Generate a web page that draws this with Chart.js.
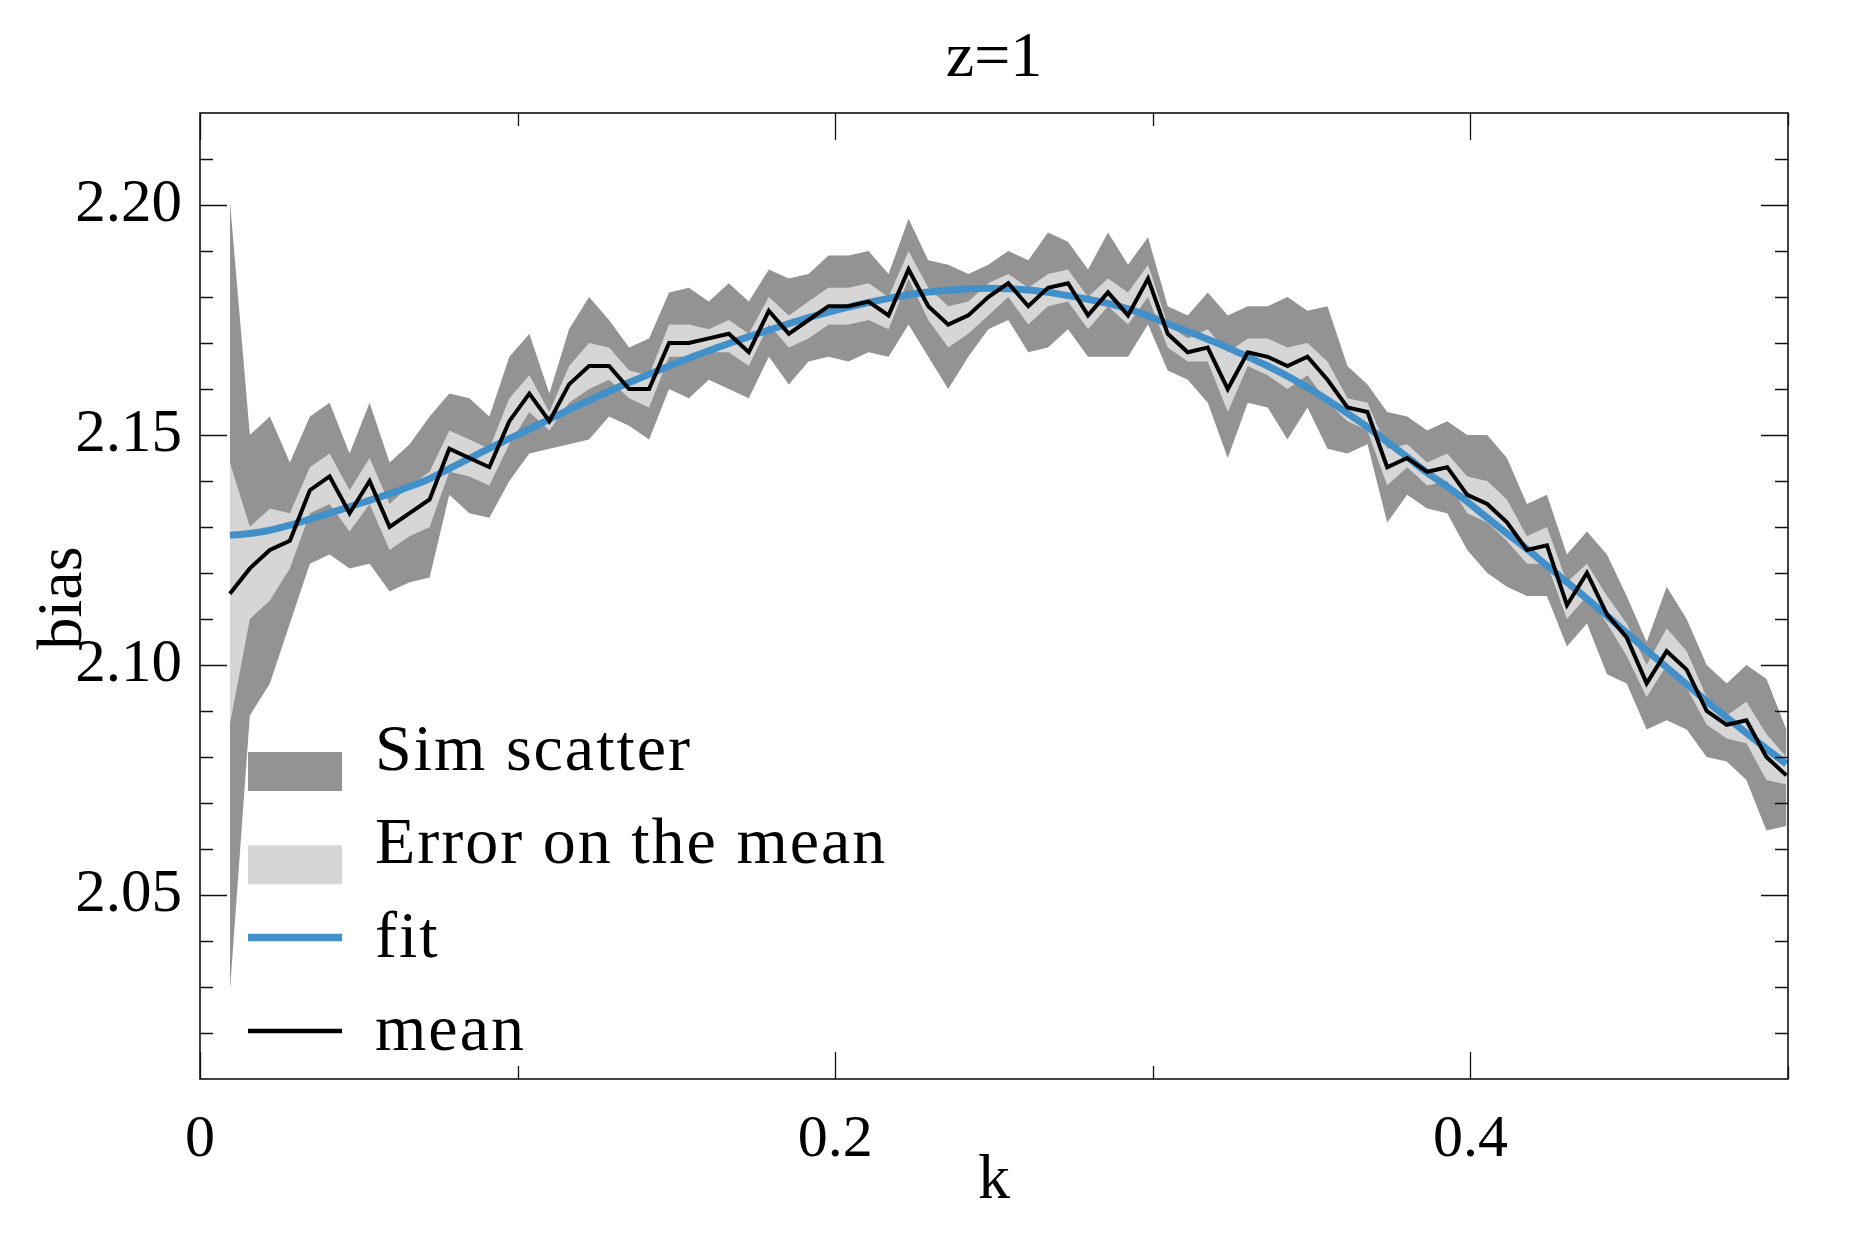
<!DOCTYPE html>
<html>
<head>
<meta charset="utf-8">
<title>bias vs k, z=1</title>
<script src="https://cdn.jsdelivr.net/npm/chart.js@4.4.1/dist/chart.umd.min.js"></script>
<style>
  html, body { margin: 0; padding: 0; background: #fff; }
  #wrap { width: 1875px; height: 1250px; }
</style>
</head>
<body>
<div id="wrap"><canvas id="grafica" width="1875" height="1250"></canvas></div>
<script>
/* =============================================================================
 * bias(k) at z=1: sim scatter band, error-on-the-mean band, mean and fit.
 * ========================================================================== */

const kVals = [
  0.0094, 0.0157, 0.0220, 0.0283, 0.0346, 0.0408, 0.0471, 0.0534, 0.0597, 0.0660,
  0.0723, 0.0785, 0.0848, 0.0911, 0.0974, 0.1037, 0.1100, 0.1162, 0.1225, 0.1288,
  0.1351, 0.1414, 0.1477, 0.1539, 0.1602, 0.1665, 0.1728, 0.1791, 0.1854, 0.1916,
  0.1979, 0.2042, 0.2105, 0.2168, 0.2231, 0.2293, 0.2356, 0.2419, 0.2482, 0.2545,
  0.2608, 0.2670, 0.2733, 0.2796, 0.2859, 0.2922, 0.2985, 0.3047, 0.3110, 0.3173,
  0.3236, 0.3299, 0.3362, 0.3424, 0.3487, 0.3550, 0.3613, 0.3676, 0.3738, 0.3801,
  0.3864, 0.3927, 0.3990, 0.4053, 0.4115, 0.4178, 0.4241, 0.4304, 0.4367, 0.4430,
  0.4492, 0.4555, 0.4618, 0.4681, 0.4744, 0.4807, 0.4869, 0.4932, 0.4995
];

const meanVals = [
  2.1155, 2.121, 2.125, 2.127, 2.138, 2.141, 2.133, 2.140, 2.130, 2.133,
  2.136, 2.147, 2.145, 2.143, 2.153, 2.159, 2.153, 2.161, 2.165, 2.165,
  2.160, 2.160, 2.170, 2.170, 2.171, 2.172, 2.168, 2.177, 2.172, 2.175,
  2.178, 2.178, 2.179, 2.176, 2.186, 2.178, 2.174, 2.176, 2.180, 2.183,
  2.178, 2.182, 2.183, 2.176, 2.181, 2.176, 2.184, 2.172, 2.168, 2.169,
  2.160, 2.168, 2.167, 2.165, 2.167, 2.162, 2.156, 2.155, 2.143, 2.145,
  2.142, 2.143, 2.137, 2.135, 2.131, 2.125, 2.126, 2.113, 2.120, 2.111,
  2.106, 2.096, 2.103, 2.099, 2.090, 2.087, 2.088, 2.080, 2.076
];

const errHi = [
  2.144, 2.130, 2.134, 2.133, 2.143, 2.146, 2.138, 2.145, 2.135, 2.139,
  2.142, 2.151, 2.149, 2.147, 2.158, 2.163, 2.155, 2.165, 2.170, 2.169,
  2.164, 2.163, 2.174, 2.174, 2.173, 2.175, 2.172, 2.180, 2.176, 2.179,
  2.182, 2.182, 2.183, 2.180, 2.190, 2.182, 2.178, 2.179, 2.183, 2.185,
  2.182, 2.185, 2.186, 2.180, 2.184, 2.181, 2.187, 2.174, 2.171, 2.173,
  2.168, 2.171, 2.171, 2.169, 2.170, 2.166, 2.158, 2.157, 2.147, 2.148,
  2.144, 2.146, 2.141, 2.140, 2.136, 2.128, 2.130, 2.118, 2.122, 2.115,
  2.109, 2.100, 2.108, 2.103, 2.093, 2.089, 2.092, 2.085, 2.080
];

const errLo = [
  2.087, 2.110, 2.114, 2.121, 2.133, 2.135, 2.129, 2.135, 2.125, 2.128,
  2.130, 2.142, 2.141, 2.139, 2.148, 2.155, 2.151, 2.157, 2.160, 2.162,
  2.158, 2.156, 2.167, 2.167, 2.168, 2.168, 2.165, 2.174, 2.169, 2.171,
  2.174, 2.174, 2.175, 2.173, 2.184, 2.175, 2.169, 2.172, 2.176, 2.180,
  2.174, 2.178, 2.179, 2.173, 2.178, 2.174, 2.180, 2.169, 2.166, 2.166,
  2.155, 2.165, 2.163, 2.160, 2.163, 2.157, 2.153, 2.151, 2.139, 2.143,
  2.139, 2.140, 2.133, 2.131, 2.127, 2.122, 2.122, 2.110, 2.115, 2.109,
  2.102, 2.093, 2.100, 2.095, 2.087, 2.084, 2.083, 2.075, 2.074
];

const scatHi = [
  2.201, 2.150, 2.154, 2.144, 2.154, 2.157, 2.146, 2.157, 2.144, 2.148,
  2.154, 2.159, 2.158, 2.154, 2.167, 2.172, 2.159, 2.173, 2.180, 2.175,
  2.169, 2.171, 2.181, 2.182, 2.179, 2.183, 2.179, 2.186, 2.184, 2.185,
  2.189, 2.189, 2.190, 2.185, 2.197, 2.188, 2.187, 2.185, 2.187, 2.190,
  2.188, 2.194, 2.192, 2.186, 2.194, 2.187, 2.193, 2.178, 2.176, 2.181,
  2.176, 2.178, 2.178, 2.180, 2.177, 2.178, 2.165, 2.161, 2.155, 2.154,
  2.151, 2.153, 2.150, 2.150, 2.145, 2.135, 2.137, 2.124, 2.129, 2.124,
  2.115, 2.105, 2.117, 2.110, 2.100, 2.096, 2.100, 2.097, 2.086
];

const scatLo = [
  2.029, 2.089, 2.096, 2.109, 2.122, 2.124, 2.121, 2.122, 2.116, 2.118,
  2.119, 2.137, 2.133, 2.132, 2.140, 2.146, 2.147, 2.148, 2.149, 2.154,
  2.152, 2.149, 2.160, 2.158, 2.162, 2.160, 2.158, 2.167, 2.161, 2.166,
  2.167, 2.166, 2.168, 2.167, 2.174, 2.167, 2.160, 2.167, 2.173, 2.175,
  2.168, 2.169, 2.173, 2.167, 2.167, 2.167, 2.174, 2.164, 2.162, 2.157,
  2.145, 2.157, 2.156, 2.149, 2.156, 2.147, 2.146, 2.148, 2.131, 2.137,
  2.134, 2.133, 2.125, 2.120, 2.117, 2.115, 2.115, 2.104, 2.109, 2.098,
  2.096, 2.086, 2.088, 2.086, 2.080, 2.079, 2.075, 2.064, 2.065
];

const fitVals = [
  2.1282, 2.1286, 2.1293, 2.1304, 2.1317, 2.1330, 2.1344, 2.1358, 2.1372, 2.1388,
  2.1405, 2.1427, 2.1449, 2.1471, 2.1492, 2.1513, 2.1534, 2.1555, 2.1575, 2.1595,
  2.1614, 2.1632, 2.1650, 2.1667, 2.1683, 2.1699, 2.1714, 2.1728, 2.1742, 2.1755,
  2.1767, 2.1778, 2.1788, 2.1797, 2.1805, 2.1811, 2.1815, 2.1818, 2.1819, 2.1818,
  2.1815, 2.1810, 2.1803, 2.1795, 2.1786, 2.1774, 2.1759, 2.1742, 2.1725, 2.1708,
  2.1690, 2.1670, 2.1650, 2.1628, 2.1603, 2.1576, 2.1547, 2.1517, 2.1485, 2.1452,
  2.1418, 2.1388, 2.1355, 2.1320, 2.1286, 2.1252, 2.1216, 2.1180, 2.1144, 2.1107,
  2.1070, 2.1032, 2.0995, 2.0958, 2.0921, 2.0886, 2.0852, 2.0818, 2.0785
];

const xTicks = [0, 0.2, 0.4];
const xMinor = [0.1, 0.3, 0.5];
const yTicks = [2.05, 2.10, 2.15, 2.20];
const yMinor = [2.02, 2.03, 2.04, 2.06, 2.07, 2.08, 2.09, 2.11, 2.12, 2.13,
                2.14, 2.16, 2.17, 2.18, 2.19, 2.21];

const TITLE = 'z=1';
const X_LABEL = 'k';
const Y_LABEL = 'bias';

const FONT = "'Liberation Serif', 'Times New Roman', serif";
const C_SCATTER = '#939393';
const C_ERROR = '#d6d6d6';
const C_FIT = '#4290c9';
const C_MEAN = '#000000';

const puntos = (vals) => kVals.map((k, i) => ({ x: k, y: vals[i] }));

/* --- Frame with inward ticks on all four sides --------------------------- */
const marco = {
  id: 'marco',
  afterDatasetsDraw(chart) {
    const { ctx, chartArea: a, scales: { x, y } } = chart;
    ctx.save();
    ctx.strokeStyle = '#111';
    ctx.lineWidth = 1.3;
    ctx.beginPath();
    const xt = (vals, len) => vals.forEach(v => {
      const px = Math.round(x.getPixelForValue(v)) + 0.5;
      ctx.moveTo(px, a.bottom); ctx.lineTo(px, a.bottom - len);
      ctx.moveTo(px, a.top); ctx.lineTo(px, a.top + len);
    });
    const yt = (vals, len) => vals.forEach(v => {
      const py = Math.round(y.getPixelForValue(v)) + 0.5;
      ctx.moveTo(a.left, py); ctx.lineTo(a.left + len, py);
      ctx.moveTo(a.right, py); ctx.lineTo(a.right - len, py);
    });
    xt(xTicks, 27); xt(xMinor, 13);
    yt(yTicks, 27); yt(yMinor, 13);
    ctx.stroke();
    ctx.lineWidth = 1.6;
    ctx.strokeRect(a.left, a.top, a.right - a.left, a.bottom - a.top);
    ctx.restore();
  }
};

/* --- Legend inside the plot, lower left ---------------------------------- */
const leyenda = {
  id: 'leyenda',
  afterDatasetsDraw(chart) {
    const { ctx } = chart;
    const ds = chart.data.datasets;
    const filas = [ds[4], ds[2], ds[1], ds[0]];
    const x0 = 248, x1 = 342, base = 770, paso = 93.3;
    ctx.save();
    ctx.font = `66px ${FONT}`;
    ctx.letterSpacing = '2px';
    ctx.textBaseline = 'alphabetic';
    filas.forEach((d, i) => {
      const yb = base + i * paso;
      if (d.fill) {
        ctx.fillStyle = d.backgroundColor;
        ctx.fillRect(x0, yb - 18, x1 - x0, 39);
      } else {
        ctx.strokeStyle = d.borderColor;
        ctx.lineWidth = d.borderWidth + 0.5;
        ctx.beginPath();
        ctx.moveTo(x0, yb - 19); ctx.lineTo(x1, yb - 19);
        ctx.stroke();
      }
      ctx.fillStyle = '#000';
      ctx.fillText(d.label, 375, yb);
    });
    ctx.restore();
  }
};

/* --- Title and axis labels ----------------------------------------------- */
const rotulos = {
  id: 'rotulos',
  afterDraw(chart) {
    const { ctx, chartArea: a } = chart;
    const cx = (a.left + a.right) / 2;
    ctx.save();
    ctx.fillStyle = '#000';
    ctx.textAlign = 'center';
    ctx.textBaseline = 'alphabetic';
    ctx.font = `64px ${FONT}`;
    ctx.fillText(TITLE, cx, 76);
    ctx.fillText(X_LABEL, cx, 1198);
    ctx.translate(81, 598);
    ctx.rotate(-Math.PI / 2);
    ctx.font = `64px ${FONT}`;
    ctx.fillText(Y_LABEL, 0, 0);
    ctx.restore();
  }
};

const sinPuntos = { pointRadius: 0, pointHoverRadius: 0 };

new Chart(document.getElementById('grafica'), {
  type: 'line',
  data: {
    datasets: [
      { label: 'mean', data: puntos(meanVals), borderColor: C_MEAN, borderWidth: 4, fill: false, ...sinPuntos },
      { label: 'fit', data: puntos(fitVals), borderColor: C_FIT, borderWidth: 7, fill: false,
        cubicInterpolationMode: 'monotone', ...sinPuntos },
      { label: 'Error on the mean', data: puntos(errHi), borderWidth: 0, borderColor: 'rgba(0,0,0,0)',
        backgroundColor: C_ERROR, fill: '+1', ...sinPuntos },
      { label: 'err-lo', data: puntos(errLo), borderWidth: 0, borderColor: 'rgba(0,0,0,0)', fill: false, ...sinPuntos },
      { label: 'Sim scatter', data: puntos(scatHi), borderWidth: 0, borderColor: 'rgba(0,0,0,0)',
        backgroundColor: C_SCATTER, fill: '+1', ...sinPuntos },
      { label: 'scat-lo', data: puntos(scatLo), borderWidth: 0, borderColor: 'rgba(0,0,0,0)', fill: false, ...sinPuntos },
    ],
  },
  options: {
    responsive: false,
    devicePixelRatio: 1,
    animation: false,
    layout: { padding: { top: 113, right: 87, bottom: 0, left: 0 } },
    plugins: { legend: { display: false }, tooltip: { enabled: false }, title: { display: false } },
    scales: {
      x: {
        type: 'linear', min: 0, max: 0.5,
        afterBuildTicks: (s) => { s.ticks = xTicks.map(v => ({ value: v })); },
        afterFit: (s) => { s.height = 171; },
        grid: { display: false, drawTicks: false },
        border: { display: false },
        ticks: {
          color: '#000', padding: 25, maxRotation: 0, autoSkip: false,
          font: { family: FONT, size: 60 },
          callback: (v) => (v === 0 ? '0' : String(+v.toFixed(1))),
        },
      },
      y: {
        type: 'linear', min: 2.01, max: 2.22,
        afterBuildTicks: (s) => { s.ticks = yTicks.map(v => ({ value: v })); },
        afterFit: (s) => { s.width = 200; },
        grid: { display: false, drawTicks: false },
        border: { display: false },
        ticks: {
          color: '#000', padding: 18, autoSkip: false,
          font: { family: FONT, size: 61 },
          callback: (v) => v.toFixed(2),
        },
      },
    },
  },
  plugins: [marco, leyenda, rotulos],
});
</script>
</body>
</html>
